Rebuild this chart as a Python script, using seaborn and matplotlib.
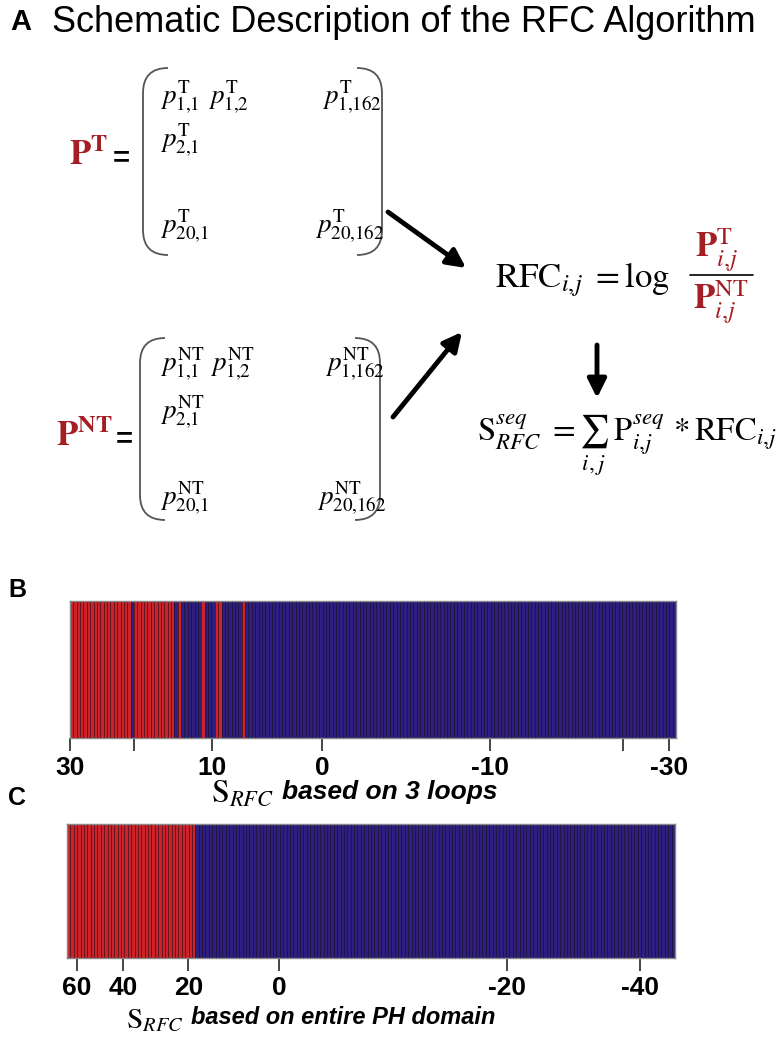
import numpy as np
import matplotlib
matplotlib.use('Agg')
import matplotlib.pyplot as plt
from matplotlib.colors import ListedColormap
from matplotlib.path import Path
from matplotlib.patches import PathPatch
import seaborn as sns


# stripe classes read off the picture as runs (1 = red / target, 0 = blue / non-target)
LOOPS_RUN_CLASS = [1, 0, 1, 0, 1, 0, 1, 0, 1, 0, 1, 0]
LOOPS_RUN_LEN = [18, 1, 12, 1, 1, 6, 1, 3, 2, 6, 1, 128]
LOOPS_TICK_POS = [0.0, 19.0, 42.3, 74.9, 124.9, 164.3, 177.8]
LOOPS_TICK_LABELS = ['30', '', '10', '0', '-10', '', '-30']

DOMAIN_RUN_CLASS = [1, 0]
DOMAIN_RUN_LEN = [38, 142]
DOMAIN_TICK_POS = [2.9, 16.7, 35.9, 62.8, 130.3, 169.7]
DOMAIN_TICK_LABELS = ['60', '40', '20', '0', '-20', '-40']

RED = '#CC2229'
BLUE = '#2D1F80'
DARK_RED = '#A31F24'


def bracket(ax, x_out, x_in, top, bottom, c=25):
	'''
	draw one tall round bracket in pixel coords
	'''
	verts = [(x_in, top), (x_out, top), (x_out, top + c),
		(x_out, bottom - c), (x_out, bottom), (x_in, bottom)]
	codes = [Path.MOVETO, Path.CURVE3, Path.CURVE3,
		Path.LINETO, Path.CURVE3, Path.CURVE3]
	ax.add_patch(PathPatch(Path(verts, codes), fill = False, lw = 1.3, edgecolor = '#555555'))


def matrix(ax, sup, rows, xl, xr, top, bottom):
	'''
	rows: list of (y, [(x, subscript), ...])
	'''
	bracket(ax, xl, xl + 25, top, bottom)
	bracket(ax, xr, xr - 25, top, bottom)
	for y, entries in rows:
		for x, sub in entries:
			ax.text(x, y, r'$p^{\mathrm{%s}}_{\mathrm{%s}}$' % (sup, sub.replace(',', '{,}')), fontsize = 19.5,
				ha = 'left', va = 'center')


def barcode(fig, rect, run_class, run_len, tick_pos, tick_labels):
	ax = fig.add_axes(rect)
	classes = np.repeat(run_class, run_len).reshape(1, -1)
	sns.heatmap(classes, cmap = ListedColormap([BLUE, RED]), vmin = 0, vmax = 1, cbar = False,
		linewidths = 0, xticklabels = False, yticklabels = False, ax = ax)
	# thin dark separators between the stripes
	ax.vlines(np.arange(1, classes.shape[1]), 0, 1, color = '#1e0c1c', lw = 0.55, alpha = 0.75)
	for s in ax.spines.values():
		s.set_visible(True)
		s.set_color('#888888')
		s.set_linewidth(1)
	ax.set_xticks(tick_pos)
	ax.set_xticklabels(tick_labels, fontsize = 19, fontweight = 'semibold')
	ax.tick_params(axis = 'x', bottom = True, length = 9, width = 1.4, color = '#444444',
		labelcolor = 'black', pad = 4)
	ax.tick_params(axis = 'y', left = False)
	return ax


sns.set_style('white')
plt.rcParams['font.family'] = ['Liberation Sans', 'DejaVu Sans']
plt.rcParams['mathtext.fontset'] = 'stix'
plt.rcParams['text.color'] = 'black'

fig = plt.figure(figsize = (7.8, 10.5), dpi = 100)
ov = fig.add_axes([0, 0, 1, 1])
ov.set_xlim(0, 780)
ov.set_ylim(1050, 0)
ov.axis('off')

# panel A
ov.text(10, 22, 'A', fontsize = 21, fontweight = 'bold', va = 'center')
ov.text(52, 22, 'Schematic Description of the RFC Algorithm', fontsize = 26, va = 'center')

ov.text(69, 155, r'$\mathbf{P}^{\mathbf{T}}$', fontsize = 25, color = DARK_RED, va = 'center')
ov.text(113, 158, '=', fontsize = 21, fontweight = 'bold', va = 'center')
matrix(ov, 'T', [(97, [(160, '1,1'), (208, '1,2'), (322, '1,162')]),
	(140, [(160, '2,1')]),
	(226, [(160, '20,1'), (315, '20,162')])], 143, 382, 68, 255)

ov.text(56, 436, r'$\mathbf{P}^{\mathbf{NT}}$', fontsize = 25, color = DARK_RED, va = 'center')
ov.text(116, 439, '=', fontsize = 21, fontweight = 'bold', va = 'center')
matrix(ov, 'NT', [(364, [(160, '1,1'), (210, '1,2'), (325, '1,162')]),
	(412, [(160, '2,1')]),
	(498, [(160, '20,1'), (317, '20,162')])], 140, 380, 338, 520)

arrow = dict(arrowstyle = '-|>', lw = 3.5, color = 'black', mutation_scale = 28, shrinkA = 0, shrinkB = 0)
ov.annotate('', xy = (466, 268), xytext = (388, 212), arrowprops = arrow)
ov.annotate('', xy = (462, 332), xytext = (393, 417), arrowprops = arrow)
ov.annotate('', xy = (597, 398), xytext = (597, 345), arrowprops = arrow)

ov.text(495, 280, r'$\mathrm{RFC}_{i{,}j}\ = \mathrm{log}$', fontsize = 25, va = 'center')
ov.text(695, 250, r'$\mathbf{P}^{\mathrm{T}}_{i{,}j}$', fontsize = 25, color = DARK_RED, va = 'center')
ov.plot([690, 753], [275, 275], color = 'black', lw = 1.2)
ov.text(693, 302, r'$\mathbf{P}^{\mathrm{NT}}_{i{,}j}$', fontsize = 25, color = DARK_RED, va = 'center')

ov.text(477, 445, r'$\mathrm{S}^{seq}_{RFC}\ = \sum_{i,j}\ \mathrm{P}^{seq}_{i{,}j}\, * \mathrm{RFC}_{i{,}j}$',
	fontsize = 23.5, va = 'center')

# panel B
ov.text(8, 590, 'B', fontsize = 18, fontweight = 'bold', va = 'center')
barcode(fig, [70/780, 1 - 738/1050, 606/780, 137/1050],
	LOOPS_RUN_CLASS, LOOPS_RUN_LEN, LOOPS_TICK_POS, LOOPS_TICK_LABELS)
ov.text(274, 794, r'$\mathrm{S}_{RFC}$', fontsize = 23, ha = 'right', va = 'center')
ov.text(282, 792, 'based on 3 loops', fontsize = 19, fontweight = 'bold', fontstyle = 'italic', va = 'center')

# panel C
ov.text(8, 798, 'C', fontsize = 18, fontweight = 'bold', va = 'center')
barcode(fig, [67/780, 1 - 958/1050, 608/780, 134/1050],
	DOMAIN_RUN_CLASS, DOMAIN_RUN_LEN, DOMAIN_TICK_POS, DOMAIN_TICK_LABELS)
ov.text(184, 1020, r'$\mathrm{S}_{RFC}$', fontsize = 21, ha = 'right', va = 'center')
ov.text(191, 1018, 'based on entire PH domain', fontsize = 17, fontweight = 'bold', fontstyle = 'italic', va = 'center')

fig.savefig('out.png', dpi = 100)
plt.close()
